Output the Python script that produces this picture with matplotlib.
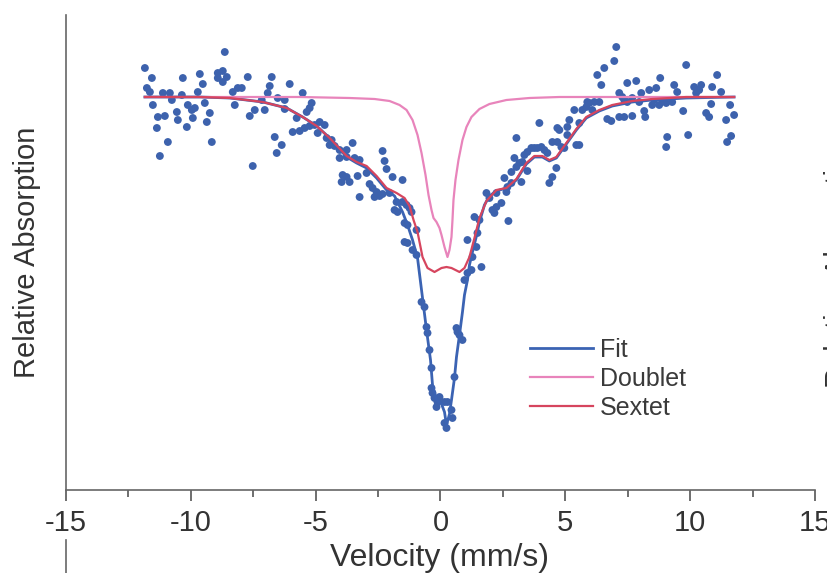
import matplotlib
matplotlib.use("Agg")
import matplotlib.pyplot as plt
from matplotlib.lines import Line2D

plt.rcParams["font.family"] = ["Liberation Sans", "DejaVu Sans"]
plt.rcParams["axes.unicode_minus"] = False

# measured spectrum (velocity in mm/s, relative counts)
vel = [-11.84, -11.56, -11.76, -11.64, -11.52, -11.36, -11.24, -11.32, -11.04, -11.12,
       -10.84, -10.76, -10.92, -10.56, -10.52, -10.36, -10.32, -10.16, -10.12, -9.96,
       -9.84, -9.92, -9.72, -9.64, -9.52, -9.44, -9.36, -9.24, -9.16, -8.92,
       -8.72, -8.56, -8.72, -8.92, -8.64, -8.32, -8.12, -7.96, -8.24, -7.72,
       -7.64, -7.44, -7.52, -7.16, -7.04, -6.92, -6.84, -6.76, -6.64, -6.36,
       -6.56, -6.52, -6.24, -6.04, -6.24, -5.52, -5.16, -5.24, -5.36, -5.76,
       -5.92, -5.64, -5.44, -5.24, -5.04, -4.84, -4.64, -4.92, -4.56, -4.36,
       -4.44, -4.24, -4.04, -3.76, -3.52, -4.04, -3.76, -3.44, -3.24, -2.32,
       -2.24, -2.16, -1.92, -1.52, -3.92, -3.76, -3.64, -3.96, -3.32, -2.96,
       -2.84, -2.72, -2.56, -2.44, -2.64, -3.24, -2.32, -2.04, -1.84, -1.72,
       -1.76, -1.52, -1.36, -1.24, -1.16, -1.44, -1.32, -1.44, -1.32, -0.96,
       -1.12, -0.96, -0.76, -0.64, -0.56, -0.52, -0.44, -0.36, -0.36, -0.32,
       -0.24, -0.12, -0.04, -0.16, 0.16, 0.28, 0.16, 0.24, 0.44, 0.48,
       0.56, 0.64, 0.76, 0.88, 0.68, 0.96, 1.08, 1.24, 1.08, 1.28,
       1.44, 1.48, 1.64, 1.56, 1.36, 1.84, 1.96, 2.08, 2.24, 2.24,
       2.72, 2.16, 2.44, 2.64, 2.56, 2.84, 3.04, 3.16, 3.28, 2.84,
       3.24, 2.96, 3.04, 3.36, 3.48, 3.64, 3.76, 3.88, 4.04, 4.16,
       4.28, 3.48, 2.68, 4.64, 4.48, 4.36, 3.96, 4.48, 4.68, 4.84,
       4.96, 4.68, 5.08, 5.16, 5.44, 5.56, 5.36, 5.68, 5.84, 5.88,
       4.76, 5.08, 5.56, 5.96, 6.08, 6.16, 6.36, 6.28, 6.44, 6.56,
       6.96, 7.04, 7.16, 7.28, 7.48, 7.84, 8.04, 8.36, 8.64, 8.80,
       9.36, 9.84, 9.48, 10.16, 10.44, 10.36, 10.24, 10.88, 11.08, 11.24,
       10.84, 11.60, 11.76, 11.44, 10.64, 10.76, 9.72, 9.92, 9.08, 9.04,
       11.64, 11.48, 6.68, 6.84, 7.16, 7.36, 7.68, 8.20, 8.16, 8.48,
       8.76, 9.04, 9.28, 8.56, 8.88, 7.68, 7.96, 7.48, 7.36]
counts = [1029, 1019, 1009, 1005, 992, 969, 941, 980, 981, 1004,
          1004, 997, 955, 985, 977, 1002, 1019, 970, 992, 987,
          989, 979, 1005, 1023, 1013, 994, 975, 984, 955, 1024,
          1026, 1020, 1015, 1019, 1045, 1005, 1009, 1009, 992, 1020,
          981, 987, 931, 997, 987, 1004, 1011, 1020, 960, 952,
          944, 999, 997, 1013, 988, 1004, 994, 989, 985, 979,
          965, 966, 969, 971, 972, 975, 972, 964, 959, 957,
          952, 951, 947, 947, 954, 939, 940, 939, 937, 946,
          936, 928, 920, 917, 922, 920, 915, 915, 921, 924,
          913, 909, 905, 901, 900, 900, 903, 904, 887, 885,
          895, 895, 892, 889, 885, 874, 872, 855, 854, 867,
          847, 842, 795, 790, 770, 764, 747, 729, 709, 704,
          699, 695, 700, 690, 695, 695, 674, 669, 687, 679,
          720, 769, 762, 757, 765, 817, 824, 827, 857, 840,
          850, 864, 830, 877, 880, 904, 899, 887, 890, 904,
          876, 884, 894, 905, 919, 925, 930, 934, 935, 914,
          915, 939, 959, 942, 945, 949, 949, 949, 950, 947,
          944, 926, 910, 929, 920, 914, 974, 955, 955, 950,
          949, 969, 970, 977, 952, 952, 987, 987, 990, 995,
          967, 962, 974, 994, 987, 995, 995, 1022, 1012, 1029,
          1036, 1050, 1004, 1000, 1014, 1016, 1004, 1007, 1009, 1019,
          1012, 1032, 1005, 1010, 1012, 1007, 1004, 1010, 1022, 1005,
          993, 992, 982, 977, 984, 980, 986, 962, 960, 950,
          961, 955, 978, 976, 980, 980, 981, 980, 986, 992,
          992, 994, 995, 997, 997, 999, 995, 995, 997]

# fitted components
fit_v = [-11.84, -9.64, -8.44, -7.12, -6.16, -5.52, -4.96, -4.44, -3.76, -3.36,
         -2.96, -2.56, -2.16, -1.84, -1.52, -1.32, -1.12, -0.92, -0.76, -0.56,
         -0.40, -0.32, -0.16, 0.04, 0.16, 0.24, 0.36, 0.44, 0.56, 0.64,
         0.76, 0.88, 0.96, 1.08, 1.16, 1.28, 1.44, 1.56, 1.76, 1.96,
         2.24, 2.64, 3.04, 3.44, 3.76, 4.08, 4.36, 4.64, 5.04, 5.44,
         5.84, 6.36, 6.88, 7.68, 8.48, 9.84, 11.76]
fit_c = [1000, 1000, 999, 995, 989, 980, 971, 959, 940, 934,
         929, 919, 907, 901, 885, 872, 857, 839, 807, 767,
         737, 712, 697, 693, 685, 672, 683, 697, 719, 740,
         762, 785, 802, 817, 832, 845, 861, 875, 892, 901,
         906, 909, 917, 933, 940, 940, 936, 939, 953, 967,
         979, 986, 991, 995, 997, 999, 1000]

doublet_v = [-11.84, -5.64, -3.64, -2.64, -2.04, -1.64, -1.36, -1.12, -0.92, -0.76,
             -0.60, -0.48, -0.36, -0.28, -0.16, -0.04, 0.04, 0.16, 0.28, 0.36,
             0.44, 0.48, 0.52, 0.60, 0.72, 0.88, 1.04, 1.24, 1.56, 1.96,
             2.64, 3.56, 4.76, 11.76]
doublet_c = [1000, 1000, 999, 998, 996, 992, 987, 977, 962, 944,
             922, 902, 887, 879, 875, 869, 862, 850, 840, 847,
             860, 877, 897, 917, 937, 957, 970, 980, 988, 993,
             997, 999, 1000, 1000]

sextet_v = [-11.84, -9.64, -8.44, -7.12, -6.16, -5.52, -4.96, -4.44, -3.76, -3.36,
            -2.96, -2.56, -2.16, -1.76, -1.44, -1.24, -1.08, -0.92, -0.72, -0.52,
            -0.24, 0.04, 0.24, 0.44, 0.76, 0.96, 1.16, 1.36, 1.56, 1.84,
            2.24, 2.64, 3.04, 3.44, 3.76, 4.08, 4.36, 4.64, 5.04, 5.44,
            5.84, 6.36, 6.88, 7.68, 8.48, 9.84, 11.76]
sextet_c = [1000, 1000, 999, 995, 989, 980, 971, 959, 941, 935,
            931, 921, 909, 904, 899, 891, 877, 865, 840, 829,
            825, 829, 830, 829, 825, 829, 840, 859, 879, 896,
            907, 909, 918, 934, 941, 941, 937, 940, 954, 968,
            980, 987, 992, 996, 998, 1000, 1000]

W, H = 828, 573
fig = plt.figure(figsize=(W / 100, H / 100), dpi=100)
ax = fig.add_axes([66 / W, (H - 490) / H, 749 / W, 475 / H])

ax.scatter(vel, counts, s=32, color="#3d62ad", edgecolors="none", zorder=2)
ax.plot(fit_v, fit_c, color="#3b63b3", lw=2.0, label="Fit", zorder=3)
ax.plot(doublet_v, doublet_c, color="#e884bb", lw=1.6, label="Doublet", zorder=4)
ax.plot(sextet_v, sextet_c, color="#d6455e", lw=1.6, label="Sextet", zorder=4)

ax.set_xlim(-15, 15)
ax.set_ylim(607, 1082)
ax.set_xticks([-15, -10, -5, 0, 5, 10, 15])
ax.set_xticks([-12.5, -7.5, -2.5, 2.5, 7.5, 12.5], minor=True)
ax.set_yticks([])
ax.tick_params(axis="x", which="major", direction="out", length=8, width=1.2,
               color="#555555", labelsize=21, labelcolor="#333333", pad=6)
ax.tick_params(axis="x", which="minor", direction="out", length=5, width=1.2,
               color="#555555")
for side in ("top", "right"):
    ax.spines[side].set_visible(False)
for side in ("left", "bottom"):
    ax.spines[side].set_color("#666666")
    ax.spines[side].set_linewidth(1.2)
ax.patch.set_visible(False)

ax.legend(loc="upper left", bbox_to_anchor=(0.6195, 0.32), frameon=False,
          fontsize=18, handlelength=2.5, handletextpad=0.3, labelspacing=0.2,
          borderpad=0, borderaxespad=0, labelcolor="#3a3a3a")

fig.text(440 / W, (H - 558) / H, "Velocity (mm/s)", ha="center", va="center",
         fontsize=23, color="#333333")
fig.text(27 / W, (H - 252) / H, "Relative Absorption", ha="center", va="center",
         rotation=90, fontsize=21, color="#333333")
# edge of the neighbouring panel in the source figure
fig.text(838 / W, (H - 262) / H, "Relative Absorption", ha="center", va="center",
         rotation=90, fontsize=21, color="#333333")
fig.add_artist(Line2D([66 / W, 66 / W], [0, (H - 540) / H], color="#666666", lw=1.2))

fig.savefig("out.png", dpi=100)
